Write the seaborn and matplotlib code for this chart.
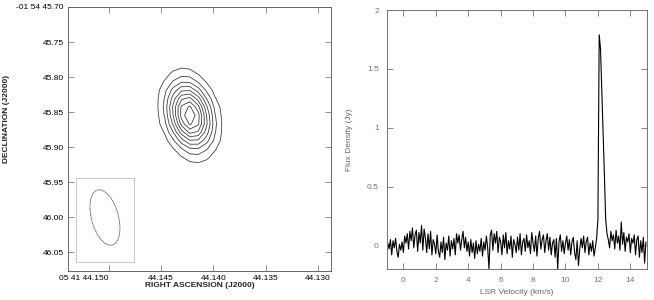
import numpy as np
import matplotlib
matplotlib.use("Agg")
import matplotlib.pyplot as plt
from matplotlib.patches import Ellipse
import seaborn as sns

# --- left panel: continuum map (RA seconds, Dec arcsec) ---
ra_grid = [44.14624, 44.14544, 44.14464, 44.14384, 44.14304, 44.14224,
           44.14144, 44.14064, 44.13984, 44.13904, 44.13824]
dec_grid = [45.7707, 45.7827, 45.7947, 45.8067, 45.8187, 45.8307, 45.8427, 45.8547,
            45.8667, 45.8787, 45.8907, 45.9027, 45.9147, 45.9267, 45.9387]
flux_map = [
    [0, 1, 1, 2, 2, 2, 1, 0, 0, 0, 0],
    [0, 1, 3, 5, 7, 6, 3, 2, 0, 0, 0],
    [1, 3, 6, 12, 15, 14, 9, 4, 1, 0, 0],
    [1, 4, 11, 21, 29, 28, 19, 9, 3, 1, 0],
    [2, 6, 17, 34, 48, 49, 35, 18, 6, 2, 0],
    [2, 7, 21, 45, 68, 73, 55, 30, 11, 3, 1],
    [2, 7, 23, 52, 82, 92, 74, 42, 17, 5, 1],
    [1, 6, 21, 50, 84, 100, 84, 50, 21, 6, 1],
    [1, 5, 17, 42, 74, 92, 82, 52, 23, 7, 2],
    [1, 3, 11, 30, 55, 73, 68, 45, 21, 7, 2],
    [0, 2, 6, 18, 35, 49, 48, 34, 17, 6, 2],
    [0, 1, 3, 9, 19, 28, 29, 21, 11, 4, 1],
    [0, 0, 1, 4, 9, 14, 15, 12, 6, 3, 1],
    [0, 0, 0, 2, 3, 6, 7, 5, 3, 1, 0],
    [0, 0, 0, 0, 1, 2, 2, 2, 1, 1, 0],
]
contour_levels = [10, 20, 30, 40, 50, 60, 70, 80, 90]

ra_ticks = [44.150, 44.145, 44.140, 44.135, 44.130]
ra_labels = ["05 41 44.150", "44.145", "44.140", "44.135", "44.130"]
dec_ticks = [45.70, 45.75, 45.80, 45.85, 45.90, 45.95, 46.00, 46.05]
dec_labels = ["-01 54 45.70", "45.75", "45.80", "45.85", "45.90", "45.95", "46.00", "46.05"]

# beam (in pixels of the inset box)
beam_minor = 27
beam_major = 57
beam_pa = 15

# --- right panel: spectrum ---
vel_start = -0.96
vel_step = 0.08
flux = [
    0.02, -0.03, 0.05, -0.08, 0.04, -0.02, 0.06, -0.05, -0.10, 0.01,
    -0.04, 0.03, -0.06, 0.08, 0.02, 0.10, -0.03, 0.12, 0.04, 0.15,
    -0.02, 0.09, 0.13, -0.05, 0.11, 0.02, 0.17, -0.04, 0.14, 0.06,
    -0.06, 0.10, -0.03, 0.12, -0.08, 0.05, 0.01, -0.07, 0.09, -0.05,
    -0.10, 0.03, -0.06, 0.07, -0.12, 0.02, -0.04, 0.08, -0.09, 0.04,
    -0.03, 0.06, -0.08, 0.10, 0.02, 0.09, -0.04, 0.05, 0.12, -0.02,
    0.07, -0.05, 0.03, -0.09, 0.05, -0.06, 0.02, -0.11, 0.04, -0.07,
    0.01, -0.05, 0.06, -0.09, 0.03, -0.04, 0.08, -0.02, -0.20, 0.09,
    0.13, -0.04, 0.10, 0.02, 0.12, -0.06, 0.07, 0.03, -0.08, 0.09,
    -0.02, 0.11, -0.07, 0.04, -0.03, 0.08, -0.10, 0.05, 0.01, -0.06,
    0.07, -0.04, 0.10, -0.08, 0.03, 0.06, -0.05, 0.09, -0.02, 0.04,
    -0.07, 0.11, 0.02, -0.05, 0.08, -0.09, 0.06, 0.12, -0.03, 0.05,
    0.09, -0.06, 0.04, 0.10, -0.04, 0.07, -0.08, 0.02, 0.05, -0.10,
    0.06, -0.20, 0.03, 0.09, -0.05, 0.04, -0.07, 0.02, 0.08, -0.04,
    0.05, -0.08, 0.03, 0.07, -0.06, -0.12, 0.04, -0.17, -0.03, 0.06,
    -0.02, 0.08, -0.06, 0.03, 0.07, -0.08, 0.02, -0.05, 0.04, -0.09,
    -0.02, 0.06, 0.22, 1.79, 1.67, 1.32, 0.95, 0.60, 0.22, 0.10,
    0.05, -0.02, 0.12, 0.04, 0.09, -0.03, 0.13, 0.02, 0.08, -0.04,
    0.20, 0.01, 0.11, -0.05, 0.07, 0.03, 0.10, -0.06, 0.06, 0.02,
    0.09, -0.08, 0.05, 0.08, -0.10, 0.04, -0.06, 0.07, -0.15, 0.03,
]
vel_ticks = [0, 2, 4, 6, 8, 10, 12, 14]
flux_ticks = [0, 0.5, 1, 1.5, 2]
flux_labels = ["0", "0.5", "1", "1.5", "2"]

velocity = vel_start + vel_step * np.arange(len(flux))

sns.set_style("ticks")
plt.rcParams["font.family"] = ["Liberation Sans", "DejaVu Sans"]

fig = plt.figure(figsize=(6.54, 3.0), dpi=100)
ax1 = fig.add_axes([0.104, 0.0967, 0.402, 0.88])
ax2 = fig.add_axes([0.592, 0.1033, 0.3966, 0.8633])

# contour map
ax1.contour(ra_grid, dec_grid, np.array(flux_map), levels=contour_levels,
            colors="0.25", linewidths=0.6)
ax1.set_xlim(44.15388, 44.12876)
ax1.set_ylim(46.0767, 45.70)
ax1.set_xticks(ra_ticks)
ax1.set_xticklabels(ra_labels)
ax1.get_xticklabels()[0].set_horizontalalignment("right")
ax1.set_yticks(dec_ticks)
ax1.set_yticklabels(dec_labels)
ax1.tick_params(direction="in", length=4, width=0.6, color="0.5", labelsize=6,
                top=True, right=True, pad=3, labelcolor="black")
for s in ax1.spines.values():
    s.set_color("0.4")
    s.set_linewidth(0.7)
ax1.set_xlabel("RIGHT ASCENSION (J2000)", fontsize=6, fontweight="bold", labelpad=0)
ax1.set_ylabel("DECLINATION (J2000)", fontsize=6, fontweight="bold")
ax1.yaxis.set_label_coords(-0.222, 0.576)

# beam inset
axb = ax1.inset_axes([0.029, 0.033, 0.223, 0.318])
axb.set_xlim(0, 58.6)
axb.set_ylim(0, 84)
axb.add_patch(Ellipse((29.3, 44.8), beam_minor, beam_major, angle=beam_pa,
                      fill=False, edgecolor="0.35", linewidth=0.6, linestyle=(0, (2, 0.6))))
axb.set_xticks([])
axb.set_yticks([])
for s in axb.spines.values():
    s.set_color("0.75")
    s.set_linewidth(0.6)

# spectrum
sns.lineplot(x=velocity, y=flux, ax=ax2, color="black", linewidth=0.8, estimator=None)
ax2.set_xlim(-1, 15)
ax2.set_ylim(-0.2, 2.0)
ax2.set_xticks(vel_ticks)
ax2.set_yticks(flux_ticks)
ax2.set_yticklabels(flux_labels)
ax2.tick_params(direction="in", length=4, width=0.6, color="0.45", labelsize=6,
                top=True, right=True, pad=6, labelcolor="0.45")
for s in ax2.spines.values():
    s.set_color("0.45")
    s.set_linewidth(0.7)
ax2.set_xlabel("LSR Velocity (km/s)", fontsize=6, color="0.4", labelpad=3)
ax2.set_ylabel("Flux Density (Jy)", fontsize=6, color="0.4", labelpad=10)

fig.savefig("out.png", dpi=100)
